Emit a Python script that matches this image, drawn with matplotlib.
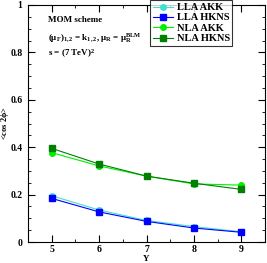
import matplotlib.pyplot as plt
import numpy as np

Y = [5, 6, 7, 8, 9]
lla_akk = [0.195, 0.135, 0.091, 0.065, 0.043]
lla_hkns = [0.184, 0.127, 0.087, 0.059, 0.041]
nla_akk = [0.377, 0.321, 0.278, 0.245, 0.240]
nla_hkns = [0.395, 0.329, 0.278, 0.248, 0.222]

plt.rcParams["font.family"] = ["Liberation Serif", "DejaVu Serif"]
plt.rcParams["font.weight"] = "bold"
plt.rcParams["mathtext.fontset"] = "custom"
plt.rcParams["mathtext.rm"] = "Liberation Serif:bold"
plt.rcParams["mathtext.it"] = "Liberation Serif:bold"
plt.rcParams["mathtext.bf"] = "Liberation Serif:bold"

fig = plt.figure(figsize=(2.67, 2.63), dpi=100)
ax = fig.add_axes([28 / 267, 21 / 263, 237 / 267, 237 / 263])

series = [
    (lla_akk, "LLA AKK", "#40e0d0", "o"),
    (lla_hkns, "LLA HKNS", "#0000ff", "s"),
    (nla_akk, "NLA AKK", "#00ee00", "o"),
    (nla_hkns, "NLA HKNS", "#007f00", "s"),
]
for vals, name, col, mk in series:
    ax.plot(Y, vals, color=col, marker=mk, markersize=4, linewidth=0.8, label=name)

ax.set_xlim(4.5, 9.5)
ax.set_ylim(0, 1)
ax.set_xticks([5, 6, 7, 8, 9])
ax.set_xticks(np.arange(4.5, 9.6, 0.5), minor=True)
ax.set_yticks([0, 0.2, 0.4, 0.6, 0.8, 1])
ax.set_yticklabels(["0", "0.2", "0.4", "0.6", "0.8", "1"])
ax.set_yticks(np.arange(0, 1.01, 0.05), minor=True)
ax.tick_params(which="both", direction="in", top=True, right=True, labelsize=7, pad=4)
ax.tick_params(axis="x", which="both", pad=2.5)
ax.tick_params(which="major", length=5)
ax.tick_params(which="minor", length=2.5)

ax.set_xlabel("Y", fontsize=6.5, fontweight="bold")
ax.xaxis.set_label_coords(0.5, -17 / 237)
ax.xaxis.label.set_va("center")
ax.set_ylabel(r"<cos 2$\phi$>", fontsize=6, fontweight="bold")
ax.yaxis.set_label_coords(-23 / 237, 0.5)
ax.yaxis.label.set_va("center")

ax.text(0.085, 0.93, "MOM scheme", transform=ax.transAxes, fontsize=6.5, fontweight="bold")
ax.text(0.085, 0.85, r"$(\mu_F)_{1,2}$ = $k_{1,2}$, $\mu_R$ = $\mu_R^{BLM}$",
        transform=ax.transAxes, fontsize=6.5)
ax.text(0.085, 0.785, r"s = (7 TeV)$^2$", transform=ax.transAxes, fontsize=6.5)

leg = ax.legend(loc="upper left", bbox_to_anchor=(0.515, 1.02), fontsize=7.5,
                frameon=True, fancybox=False, edgecolor="black", borderpad=0.25,
                labelspacing=0.1, handlelength=2.0, handletextpad=0.3, borderaxespad=0)
leg.get_frame().set_linewidth(0.8)

fig.savefig("out.png", dpi=100)
